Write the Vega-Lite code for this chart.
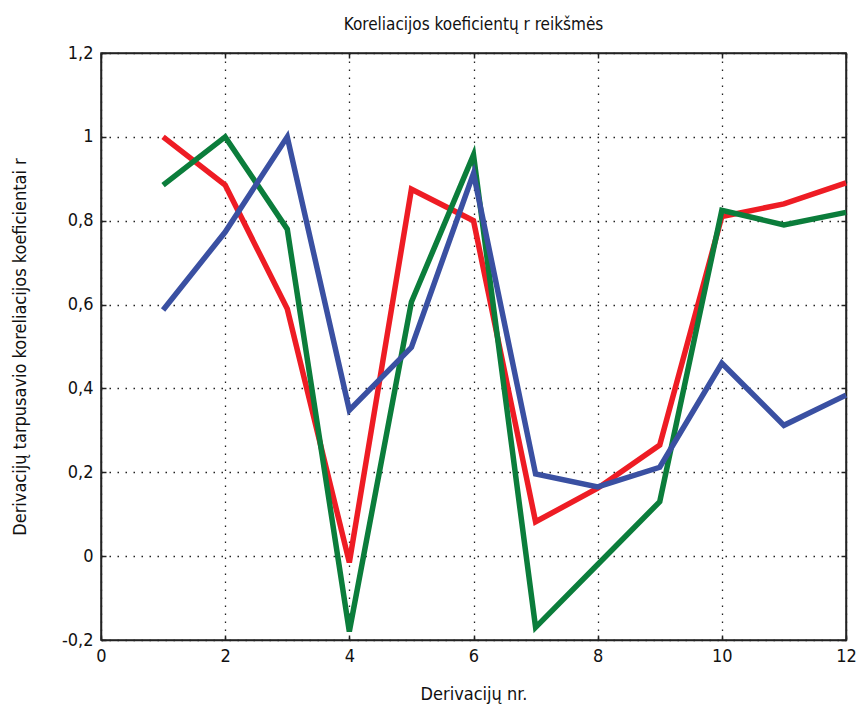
{
  "$schema": "https://vega.github.io/schema/vega-lite/v6.json",
  "autosize": {"type": "none"},
  "padding": {"left": 101, "top": 53, "right": 10, "bottom": 69},
  "width": 745,
  "height": 587,
  "background": "white",
  "config": {
    "font": "Liberation Sans Narrow, DejaVu Sans Condensed, sans-serif",
    "view": {"stroke": "#222", "strokeWidth": 1.5},
    "axis": {
      "domainColor": "#222",
      "domainWidth": 1.5,
      "tickColor": "#222",
      "tickWidth": 1.5,
      "gridColor": "#222",
      "gridWidth": 1.3,
      "gridDash": [1.5, 6.5],
      "labelColor": "#111",
      "titleColor": "#111",
      "labelFontSize": 18,
      "titleFontSize": 18,
      "titleFontWeight": "normal"
    }
  },
  "title": {
    "text": "Koreliacijos koeficientų r reikšmės",
    "fontSize": 17,
    "fontWeight": "normal",
    "color": "#111",
    "offset": 10,
    "anchor": "middle"
  },
  "data": {
    "values": [
      {"x": 1, "y": 1.0, "s": "a"},
      {"x": 2, "y": 0.885, "s": "a"},
      {"x": 3, "y": 0.59, "s": "a"},
      {"x": 4, "y": -0.015, "s": "a"},
      {"x": 5, "y": 0.875, "s": "a"},
      {"x": 6, "y": 0.8, "s": "a"},
      {"x": 7, "y": 0.082, "s": "a"},
      {"x": 8, "y": 0.162, "s": "a"},
      {"x": 9, "y": 0.265, "s": "a"},
      {"x": 10, "y": 0.81, "s": "a"},
      {"x": 11, "y": 0.84, "s": "a"},
      {"x": 12, "y": 0.89, "s": "a"},
      {"x": 1, "y": 0.885, "s": "b"},
      {"x": 2, "y": 1.0, "s": "b"},
      {"x": 3, "y": 0.78, "s": "b"},
      {"x": 4, "y": -0.18, "s": "b"},
      {"x": 5, "y": 0.606, "s": "b"},
      {"x": 6, "y": 0.957, "s": "b"},
      {"x": 7, "y": -0.17, "s": "b"},
      {"x": 8, "y": -0.02, "s": "b"},
      {"x": 9, "y": 0.13, "s": "b"},
      {"x": 10, "y": 0.825, "s": "b"},
      {"x": 11, "y": 0.79, "s": "b"},
      {"x": 12, "y": 0.82, "s": "b"},
      {"x": 1, "y": 0.587, "s": "c"},
      {"x": 2, "y": 0.773, "s": "c"},
      {"x": 3, "y": 1.0, "s": "c"},
      {"x": 4, "y": 0.348, "s": "c"},
      {"x": 5, "y": 0.498, "s": "c"},
      {"x": 6, "y": 0.913, "s": "c"},
      {"x": 7, "y": 0.196, "s": "c"},
      {"x": 8, "y": 0.165, "s": "c"},
      {"x": 9, "y": 0.212, "s": "c"},
      {"x": 10, "y": 0.46, "s": "c"},
      {"x": 11, "y": 0.312, "s": "c"},
      {"x": 12, "y": 0.384, "s": "c"}
    ]
  },
  "resolve": {"axis": {"x": "independent", "y": "independent"}},
  "layer": [
    {
      "mark": {"type": "line", "strokeWidth": 5.5, "strokeJoin": "miter", "strokeCap": "butt"},
      "encoding": {
        "x": {
          "field": "x", "type": "quantitative",
          "scale": {"domain": [0, 12], "nice": false, "zero": false},
          "axis": {
            "title": "Derivacijų nr.",
            "values": [0, 2, 4, 6, 8, 10, 12],
            "grid": true,
            "tickSize": -5,
            "labelPadding": 12,
            "titlePadding": 20,
            "labelFlush": false,
            "labelExpr": "replace(replace(format(datum.value, '.2~f'), '.', ','), '\u2212', '-')"
          }
        },
        "y": {
          "field": "y", "type": "quantitative",
          "scale": {"domain": [-0.2, 1.2], "nice": false, "zero": false},
          "axis": {
            "title": "Derivacijų tarpusavio koreliacijos koeficientai r",
            "values": [-0.2, 0, 0.2, 0.4, 0.6, 0.8, 1, 1.2],
            "grid": true,
            "tickSize": -5,
            "labelPadding": 13,
            "titlePadding": 32,
            "labelFlush": false,
            "labelExpr": "replace(replace(format(datum.value, '.2~f'), '.', ','), '\u2212', '-')"
          }
        },
        "detail": {"field": "s"},
        "color": {
          "field": "s", "type": "nominal",
          "scale": {"domain": ["a", "b", "c"], "range": ["#ee1c24", "#0b7d3b", "#3a50a2"]},
          "legend": null
        }
      }
    },
    {
      "mark": {"type": "point", "opacity": 0},
      "encoding": {
        "x": {
          "field": "x", "type": "quantitative",
          "axis": {
            "orient": "top", "title": null, "labels": false, "grid": false,
            "values": [0, 2, 4, 6, 8, 10, 12], "tickSize": -5
          }
        },
        "y": {
          "field": "y", "type": "quantitative",
          "axis": {
            "orient": "right", "title": null, "labels": false, "grid": false,
            "values": [-0.2, 0, 0.2, 0.4, 0.6, 0.8, 1, 1.2], "tickSize": -5
          }
        }
      }
    }
  ]
}
